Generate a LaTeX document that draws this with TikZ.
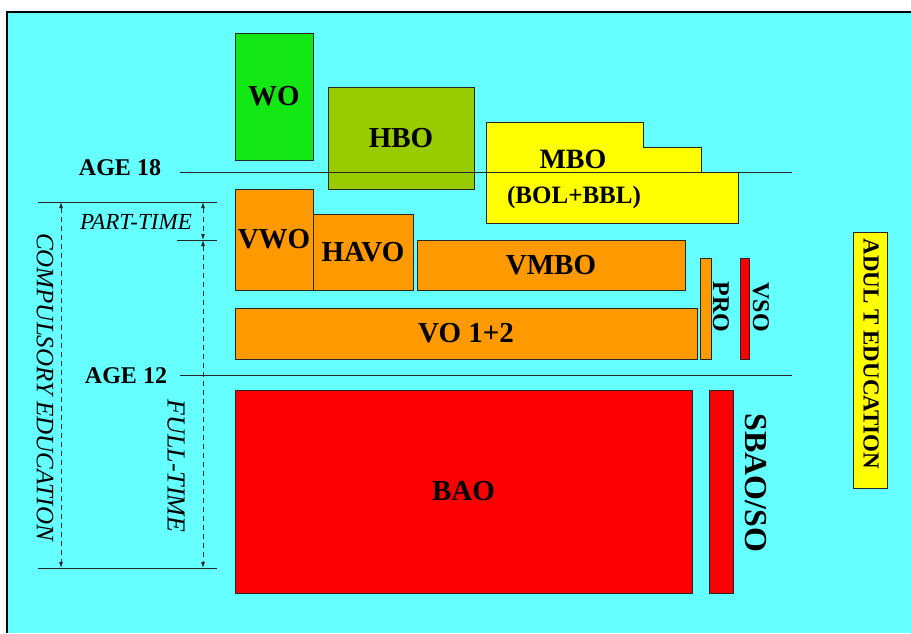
\documentclass[tikz,border=0pt]{standalone}
\usepackage{fontspec}
\setmainfont{Liberation Serif}
\usepackage{xcolor}
\usetikzlibrary{arrows.meta,positioning,calc}
\definecolor{bgcyan}{RGB}{102,255,255}
\definecolor{wogreen}{RGB}{20,232,20}
\definecolor{hbogreen}{RGB}{153,204,0}
\definecolor{mboyellow}{RGB}{255,255,0}
\definecolor{voorange}{RGB}{255,153,0}
\definecolor{baored}{RGB}{250,0,0}
\begin{document}
\begin{tikzpicture}[
    x=1pt, y=-1pt,
    >={Latex[length=6pt,width=4pt]},
    sch/.style={draw=black!85, line width=1pt, inner sep=0pt, font=\bfseries\fontsize{29}{29}\selectfont},
    bar/.style={draw=black!85, line width=1pt, inner sep=0pt},
    side/.style={inner sep=0pt, rotate=-90, font=\bfseries\fontsize{24}{24}\selectfont},
    age/.style={inner sep=0pt, font=\bfseries\fontsize{24}{24}\selectfont},
    span/.style={inner sep=0pt, font=\itshape\fontsize{23}{23}\selectfont},
    agerule/.style={draw=black!85, line width=1pt},
    limit/.style={draw=black!85, line width=1pt},
    dur/.style={draw=black!85, line width=0.8pt, dash pattern=on 5pt off 4pt, <->}
]
\useasboundingbox (0,0) rectangle (911,633);
\fill[white] (0,0) rectangle (911,633);
\fill[bgcyan] (7,12) rectangle (911,633);
\draw[black, line width=2pt] (7,633) -- (7,12) -- (911,12);

\node[sch, fill=wogreen, minimum width=78pt, minimum height=127pt] (wo) at (274,96.5) {WO};
\node[sch, fill=hbogreen, minimum width=146pt, minimum height=102pt] (hbo) at (401,138) {HBO};
\draw[draw=black!85, line width=1pt, fill=mboyellow] (486,122) -- (643,122) -- (643,147) -- (701,147)
    -- (701,172) -- (738,172) -- (738,223) -- (486,223) -- cycle;
\node[inner sep=0pt, font=\bfseries\fontsize{28}{28}\selectfont] (mbo) at (573,159) {MBO};
\node[inner sep=0pt, font=\bfseries\fontsize{25}{25}\selectfont] (bolbbl) at (574,197) {(BOL+BBL)};

\node[sch, fill=voorange, minimum width=78pt, minimum height=101pt] (vwo) at (274,239.5) {VWO};
\node[sch, fill=voorange, minimum width=100pt, minimum height=76pt] (havo) at (363,252) {HAVO};
\node[sch, fill=voorange, minimum width=268pt, minimum height=50pt] (vmbo) at (551,265) {VMBO};
\node[sch, fill=voorange, minimum width=462pt, minimum height=51pt] (vo) at (466,333.5) {VO 1+2};
\node[bar, fill=voorange, minimum width=11pt, minimum height=101pt] (probar) at (705.5,308.5) {};
\node[bar, fill=baored, minimum width=9pt, minimum height=101pt] (vsobar) at (744.5,308.5) {};
\node[side] (pro) at (721,307) {PRO};
\node[side] (vso) at (761,307) {VSO};

\node[sch, fill=baored, minimum width=457pt, minimum height=203pt] (bao) at (463.5,491.5) {BAO};
\node[bar, fill=baored, minimum width=24pt, minimum height=203pt] (sbaobar) at (721,491.5) {};
\node[side, font=\bfseries\fontsize{32}{32}\selectfont] (sbao) at (756,483) {SBAO/SO};

\node[bar, fill=mboyellow, minimum width=34pt, minimum height=256pt] (adult) at (870,360) {};
\node[side, font=\bfseries\fontsize{23}{23}\selectfont] (adulttext) at (871,354) {ADUL T EDUCATION};

\node[age] (age18) at (120,168) {AGE 18};
\node[age] (age12) at (126,376) {AGE 12};
\coordinate (a18w) at (180,172);
\coordinate (a18e) at (792,172);
\coordinate (a12w) at (180,375);
\coordinate (a12e) at (792,375);
\draw[agerule] (a18w) -- (a18e);
\draw[agerule] (a12w) -- (a12e);

\coordinate (topw) at (38,202);
\coordinate (tope) at (217,202);
\coordinate (midw) at (177,240);
\coordinate (mide) at (217,240);
\coordinate (botw) at (38,568);
\coordinate (bote) at (217,568);
\draw[limit] (topw) -- (tope);
\draw[limit] (midw) -- (mide);
\draw[limit] (botw) -- (bote);
\coordinate (ctop) at (61,202);
\coordinate (cbot) at (61,568);
\coordinate (ftop) at (203,202);
\coordinate (fmid) at (203,240);
\coordinate (fbot) at (203,568);
\draw[dur] (ctop) -- (cbot);
\draw[dur] (ftop) -- (fmid);
\draw[dur] (fmid) -- (fbot);

\node[span] (parttime) at (136,222) {PART-TIME};
\node[span, rotate=-90, font=\itshape\fontsize{25}{25}\selectfont] (compulsory) at (45,387) {COMPULSORY EDUCATION};
\node[span, rotate=-90, font=\itshape\fontsize{26}{26}\selectfont] (fulltime) at (176,466) {FULL-TIME};
\end{tikzpicture}
\end{document}
